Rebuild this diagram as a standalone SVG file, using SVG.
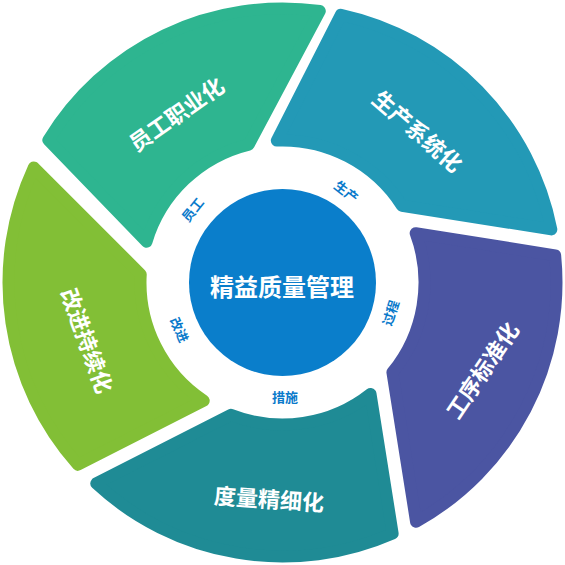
<svg xmlns="http://www.w3.org/2000/svg" xmlns:xlink="http://www.w3.org/1999/xlink" width="565" height="565" viewBox="0 0 565 565">
<style>
.seg{stroke-width:12;stroke-linejoin:round}
.big{font-family:"Liberation Sans","Noto Sans CJK SC",sans-serif;font-weight:bold;font-size:22px;fill:#fff;text-anchor:middle;dominant-baseline:central}
.small{font-family:"Liberation Sans","Noto Sans CJK SC",sans-serif;font-weight:bold;font-size:13px;fill:#0a7acb;text-anchor:middle;dominant-baseline:central}
.core{font-family:"Liberation Sans","Noto Sans CJK SC",sans-serif;font-weight:bold;font-size:24px;fill:#fff;text-anchor:middle;dominant-baseline:central}
</style>
<defs>
<path id="segshape" d="M265.04,-69.5 A274,274 0 0 1 169.35,215.4 L122.63,71.6 A142,142 0 0 0 123.83,-69.5 Z"/>
</defs>
<rect width="565" height="565" fill="#fff"/>
<g id="seg-yuangong">
<use xlink:href="#segshape" class="seg" fill="#2eb590" stroke="#2eb590" transform="translate(282.5,282.5) rotate(226)"/>
<text class="big" transform="translate(177,115) rotate(-35)">员工职业化</text>
</g>
<g id="seg-shengchan">
<use xlink:href="#segshape" class="seg" fill="#2399b6" stroke="#2399b6" transform="translate(282.5,282.5) rotate(297)"/>
<text class="big" transform="translate(417,132) rotate(41)">生产系统化</text>
</g>
<g id="seg-gongxu">
<use xlink:href="#segshape" class="seg" fill="#4b55a2" stroke="#4b55a2" transform="translate(282.5,282.5) rotate(9)"/>
<text class="big" transform="translate(483,371) rotate(-56)">工序标准化</text>
</g>
<g id="seg-duliang">
<use xlink:href="#segshape" class="seg" fill="#1f8b95" stroke="#1f8b95" transform="translate(282.5,282.5) rotate(81)"/>
<text class="big" transform="translate(269,500) rotate(4)">度量精细化</text>
</g>
<g id="seg-gaijin">
<use xlink:href="#segshape" class="seg" fill="#82bf36" stroke="#82bf36" transform="translate(282.5,282.5) rotate(153)"/>
<text class="big" transform="translate(86,341) rotate(70)">改进持续化</text>
</g>
<g id="center">
<circle cx="282.5" cy="282.5" r="93.5" fill="#0a7ecb"/>
<text class="core" x="282" y="287">精益质量管理</text>
</g>
<g id="ring-labels">
<text class="small" transform="translate(193,210) rotate(-51)">员工</text>
<text class="small" transform="translate(346,192) rotate(38)">生产</text>
<text class="small" transform="translate(391,313) rotate(-72)">过程</text>
<text class="small" transform="translate(285,397)">措施</text>
<text class="small" transform="translate(179,330) rotate(66)">改进</text>
</g>
</svg>
